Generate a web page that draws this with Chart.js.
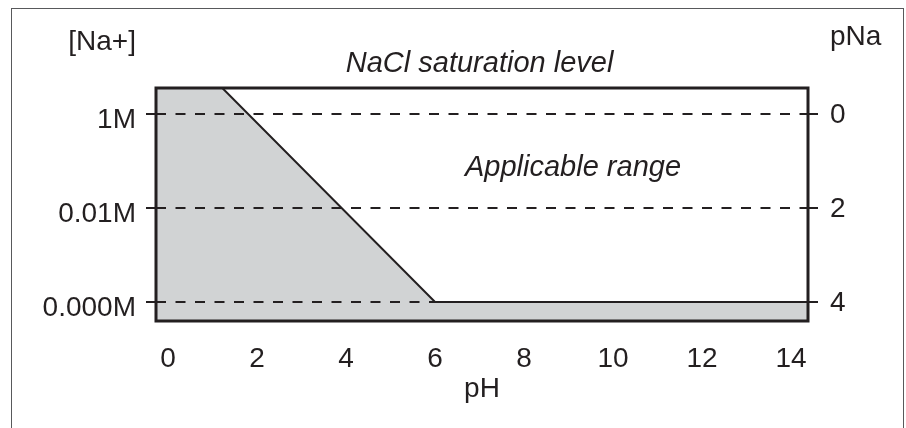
<!DOCTYPE html>
<html>
<head>
<meta charset="utf-8">
<script src="https://cdn.jsdelivr.net/npm/chart.js@4"></script>
<style>
  html, body { margin: 0; padding: 0; background: #fff; }
  #wrap { position: relative; width: 906px; height: 428px; overflow: hidden; }
  #frame {
    position: absolute; left: 11px; top: 8px; width: 891px; height: 440px;
    border: 1.5px solid #58595b; border-bottom: none;
  }
  #naChart { position: absolute; left: 0; top: 0; }
</style>
</head>
<body>
<div id="wrap">
  <div id="frame"></div>
  <canvas id="naChart" width="906" height="428"></canvas>
</div>
<script>
// boundary of the sodium error region (pH vs pNa)
const boundaryPH  = [-0.27, 1.22, 6.0, 14.38];
const boundaryPNa = [-0.553, -0.553, 4.0, 4.0];

const pHTicks      = [0, 2, 4, 6, 8, 10, 12, 14];
const pNaTicks     = [0, 2, 4];
const naConcLabels = ['1M', '0.01M', '0.000M'];

const PH_MIN = -0.27, PH_MAX = 14.38;
const PNA_MIN = -0.553, PNA_MAX = 4.404;

const INK   = '#231f20';
const SHADE = '#d1d3d4';
const FONT  = '"Liberation Sans", Arial, Helvetica, sans-serif';

const labels = {
    id: 'labels',
    afterDraw(chart) {
        const { ctx, chartArea: a, scales } = chart;
        ctx.save();
        // plot frame
        ctx.strokeStyle = INK;
        ctx.lineWidth = 3;
        ctx.strokeRect(a.left, a.top, a.right - a.left, a.bottom - a.top);

        ctx.fillStyle = INK;
        ctx.textBaseline = 'alphabetic';
        ctx.font = `28px ${FONT}`;
        ctx.textAlign = 'right';
        ctx.fillText('[Na+]', a.left - 20, a.top - 38);
        ctx.textAlign = 'left';
        ctx.fillText('pNa', a.right + 22, a.top - 43);

        ctx.font = `italic 29px ${FONT}`;
        ctx.textAlign = 'center';
        ctx.fillText('NaCl saturation level', scales.x.getPixelForValue(7), a.top - 16);
        ctx.fillText('Applicable range', scales.x.getPixelForValue(9.1), scales.y.getPixelForValue(1.32));
        ctx.restore();
    }
};

const pointsOf = (xs, ys) => xs.map((x, i) => ({ x: x, y: ys[i] }));
const fixTicks = values => axis => { axis.ticks = values.map(v => ({ value: v })); };

new Chart(document.getElementById('naChart'), {
    type: 'line',
    data: {
        datasets: [{
            data: pointsOf(boundaryPH, boundaryPNa),
            borderColor: INK,
            borderWidth: 2,
            backgroundColor: SHADE,
            pointRadius: 0,
            tension: 0,
            fill: { value: PNA_MAX }
        }]
    },
    options: {
        responsive: false,
        animation: false,
        events: [],
        layout: { padding: { top: 88, left: 0, right: 0, bottom: 0 } },
        plugins: { legend: { display: false }, tooltip: { enabled: false } },
        scales: {
            x: {
                type: 'linear',
                min: PH_MIN,
                max: PH_MAX,
                afterBuildTicks: fixTicks(pHTicks),
                afterFit: s => { s.height = 107; },
                grid: { display: false },
                border: { display: false },
                ticks: { color: INK, padding: 13, font: { family: FONT, size: 28 } },
                title: {
                    display: true,
                    text: 'pH',
                    color: INK,
                    padding: { top: 0, bottom: 22 },
                    font: { family: FONT, size: 28 }
                }
            },
            y: {
                type: 'linear',
                position: 'left',
                reverse: true,
                min: PNA_MIN,
                max: PNA_MAX,
                afterBuildTicks: fixTicks(pNaTicks),
                afterFit: s => { s.width = 156; },
                grid: {
                    z: 1,
                    color: INK,
                    lineWidth: 2,
                    tickLength: 10,
                    tickWidth: 2,
                    tickColor: INK,
                    tickBorderDash: []
                },
                border: { display: false, dash: [10, 9.5] },
                ticks: {
                    color: INK,
                    padding: 10,
                    labelOffset: 6,
                    font: { family: FONT, size: 28 },
                    callback: (v, i) => naConcLabels[i]
                }
            },
            y1: {
                type: 'linear',
                position: 'right',
                reverse: true,
                min: PNA_MIN,
                max: PNA_MAX,
                afterBuildTicks: fixTicks(pNaTicks),
                afterFit: s => { s.width = 98; },
                grid: {
                    drawOnChartArea: false,
                    color: INK,
                    lineWidth: 2,
                    tickLength: 10
                },
                border: { display: false },
                ticks: {
                    color: INK,
                    padding: 12,
                    labelOffset: 1,
                    font: { family: FONT, size: 28 },
                    callback: v => String(v)
                }
            }
        }
    },
    plugins: [labels]
});
</script>
</body>
</html>
